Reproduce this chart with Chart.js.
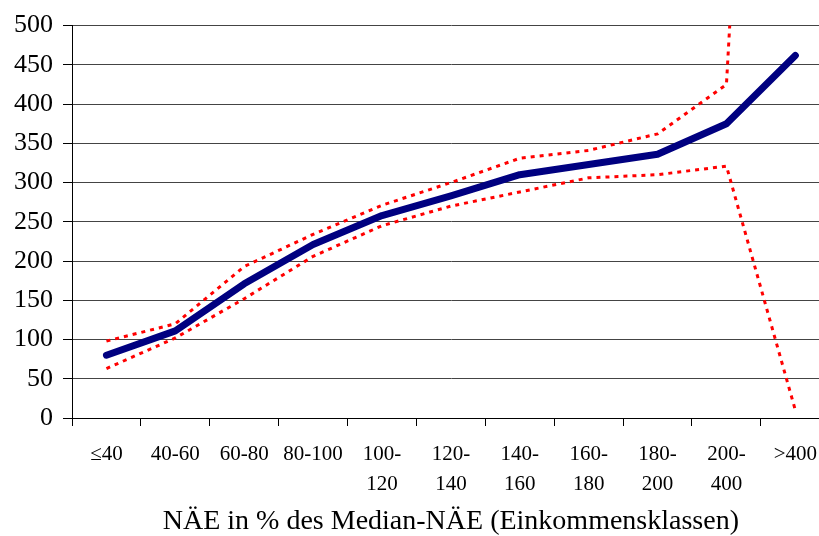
<!DOCTYPE html>
<html>
<head>
<meta charset="utf-8">
<script src="https://cdn.jsdelivr.net/npm/chart.js@4"></script>
<style>
  html, body { margin: 0; padding: 0; background: #fff; overflow: hidden; }
  #wrap { width: 830px; height: 536px; }
</style>
</head>
<body>
<div id="wrap"><canvas id="nae"></canvas></div>
<script>
const categories = ['≤40', '40-60', '60-80', '80-100', ['100-', '120'], ['120-', '140'], ['140-', '160'], ['160-', '180'], ['180-', '200'], ['200-', '400'], '>400'];
const mean = [80, 111, 171, 221, 258, 283, 310, 323, 336, 375, 462];
const upper = [98, 120, 193, 234, 271, 300, 331, 341, 362, 425, 2000];
const lower = [63, 102, 152, 206, 245, 270, 288, 306, 310, 321, 10];
const yTicks = [0, 50, 100, 150, 200, 250, 300, 350, 400, 450, 500];

const serif = 'Liberation Serif, "Times New Roman", serif';
const ctx = document.getElementById('nae').getContext('2d');

new Chart(ctx, {
    type: 'line',
    data: {
        labels: categories,
        datasets: [
            {
                label: 'upper',
                data: upper,
                borderColor: '#ff0000',
                borderWidth: 3,
                borderDash: [4, 5],
                pointRadius: 0,
                tension: 0,
                fill: false
            },
            {
                label: 'lower',
                data: lower,
                borderColor: '#ff0000',
                borderWidth: 3,
                borderDash: [4, 5],
                pointRadius: 0,
                tension: 0,
                fill: false
            },
            {
                label: 'mean',
                data: mean,
                borderColor: '#000080',
                borderWidth: 7,
                borderCapStyle: 'round',
                borderJoinStyle: 'round',
                pointRadius: 0,
                tension: 0,
                fill: false
            }
        ]
    },
    options: {
        responsive: true,
        maintainAspectRatio: false,
        animation: false,
        layout: { padding: { top: 25, right: 0, left: 0, bottom: 0 } },
        plugins: {
            legend: { display: false },
            tooltip: { enabled: false }
        },
        scales: {
            x: {
                offset: true,
                grid: {
                    offset: true,
                    drawOnChartArea: false,
                    drawTicks: true,
                    tickLength: 8,
                    color: '#000'
                },
                border: { display: true, color: '#000', width: 1 },
                ticks: {
                    color: '#000',
                    padding: 13,
                    maxRotation: 0,
                    minRotation: 0,
                    autoSkip: false,
                    font: { family: serif, size: 21, lineHeight: 1.43 }
                },
                title: {
                    display: true,
                    text: 'NÄE in % des Median-NÄE (Einkommensklassen)',
                    color: '#000',
                    font: { family: serif, size: 28, lineHeight: 1.0 },
                    padding: { top: 4, bottom: 0 }
                },
                afterFit: scale => { scale.height = 118; }
            },
            y: {
                min: 0,
                max: 500,
                afterBuildTicks: scale => { scale.ticks = yTicks.map(v => ({ value: v })); },
                grid: {
                    color: '#444',
                    tickColor: '#000',
                    tickLength: 9,
                    drawTicks: true
                },
                border: { display: true, color: '#000', width: 1 },
                ticks: {
                    color: '#000',
                    padding: 10,
                    font: { family: serif, size: 26 }
                },
                afterFit: scale => { scale.width = 72; }
            }
        }
    }
});
</script>
</body>
</html>
